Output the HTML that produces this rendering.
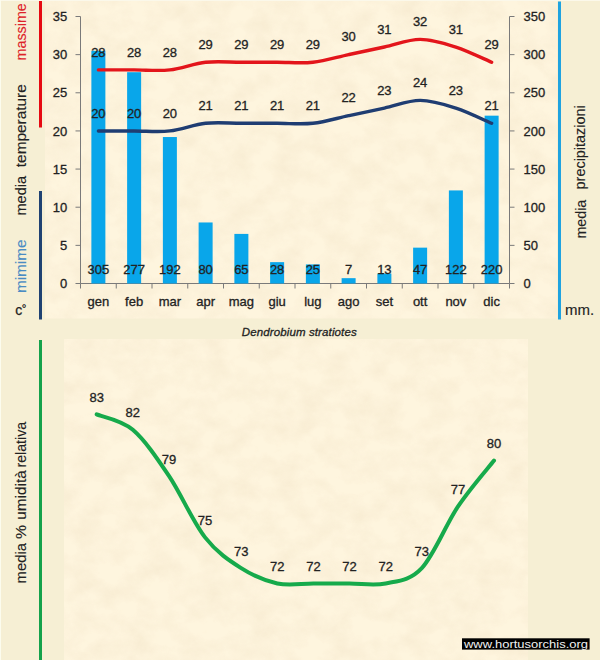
<!DOCTYPE html>
<html><head><meta charset="utf-8"><style>
html,body{margin:0;padding:0;width:600px;height:660px;overflow:hidden;background:#f6efd4}
svg text{font-family:"Liberation Sans", sans-serif}
</style></head><body>
<svg width="600" height="660" viewBox="0 0 600 660" style="position:absolute;left:0;top:0">
<rect x="0" y="0" width="600" height="660" fill="#f6efd4"/>
<defs><filter id="tx" x="0" y="0" width="100%" height="100%" color-interpolation-filters="sRGB"><feTurbulence type="fractalNoise" baseFrequency="0.04 0.05" numOctaves="4" seed="7" result="n"/><feColorMatrix in="n" type="matrix" values="0 0 0 0 0.95  0 0 0 0 0.89  0 0 0 0 0.78  0.85 0 0 0 -0.3"/><feComposite in2="SourceGraphic" operator="in"/></filter></defs>
<rect x="45" y="0" width="512" height="318.5" fill="#fef5de"/>
<rect x="64" y="339" width="464" height="321" fill="#fef5de"/>
<rect x="45" y="0" width="512" height="318.5" fill="#000" filter="url(#tx)"/>
<rect x="64" y="339" width="464" height="321" fill="#000" filter="url(#tx)"/>
<rect x="0" y="0" width="600" height="1" fill="#fbf8ea"/>
<rect x="0" y="0" width="1" height="660" fill="#fcfcee"/>
<rect x="39" y="1" width="3" height="126.5" fill="#e60a12"/>
<rect x="39" y="191" width="3" height="128.5" fill="#1f4272"/>
<rect x="558" y="1.5" width="3" height="318" fill="#1fa3e0"/>
<rect x="39" y="340" width="3" height="320" fill="#14a24b"/>
<line x1="80.5" y1="16.5" x2="80.5" y2="283.5" stroke="#7a7a7a" stroke-width="1"/>
<line x1="509.5" y1="16.5" x2="509.5" y2="283.5" stroke="#7a7a7a" stroke-width="1"/>
<line x1="80.5" y1="283.5" x2="509.5" y2="283.5" stroke="#7a7a7a" stroke-width="1"/>
<line x1="75.5" y1="283.50" x2="80.5" y2="283.50" stroke="#7a7a7a" stroke-width="1"/>
<line x1="509.5" y1="283.50" x2="514.5" y2="283.50" stroke="#7a7a7a" stroke-width="1"/>
<text x="67.2" y="288.20" text-anchor="end" font-size="13" fill="#222222" stroke="#222" stroke-width="0.3">0</text>
<text x="523.5" y="288.20" text-anchor="start" font-size="13" fill="#222222" stroke="#222" stroke-width="0.3">0</text>
<line x1="75.5" y1="245.36" x2="80.5" y2="245.36" stroke="#7a7a7a" stroke-width="1"/>
<line x1="509.5" y1="245.36" x2="514.5" y2="245.36" stroke="#7a7a7a" stroke-width="1"/>
<text x="67.2" y="250.06" text-anchor="end" font-size="13" fill="#222222" stroke="#222" stroke-width="0.3">5</text>
<text x="523.5" y="250.06" text-anchor="start" font-size="13" fill="#222222" stroke="#222" stroke-width="0.3">50</text>
<line x1="75.5" y1="207.21" x2="80.5" y2="207.21" stroke="#7a7a7a" stroke-width="1"/>
<line x1="509.5" y1="207.21" x2="514.5" y2="207.21" stroke="#7a7a7a" stroke-width="1"/>
<text x="67.2" y="211.91" text-anchor="end" font-size="13" fill="#222222" stroke="#222" stroke-width="0.3">10</text>
<text x="523.5" y="211.91" text-anchor="start" font-size="13" fill="#222222" stroke="#222" stroke-width="0.3">100</text>
<line x1="75.5" y1="169.07" x2="80.5" y2="169.07" stroke="#7a7a7a" stroke-width="1"/>
<line x1="509.5" y1="169.07" x2="514.5" y2="169.07" stroke="#7a7a7a" stroke-width="1"/>
<text x="67.2" y="173.77" text-anchor="end" font-size="13" fill="#222222" stroke="#222" stroke-width="0.3">15</text>
<text x="523.5" y="173.77" text-anchor="start" font-size="13" fill="#222222" stroke="#222" stroke-width="0.3">150</text>
<line x1="75.5" y1="130.93" x2="80.5" y2="130.93" stroke="#7a7a7a" stroke-width="1"/>
<line x1="509.5" y1="130.93" x2="514.5" y2="130.93" stroke="#7a7a7a" stroke-width="1"/>
<text x="67.2" y="135.63" text-anchor="end" font-size="13" fill="#222222" stroke="#222" stroke-width="0.3">20</text>
<text x="523.5" y="135.63" text-anchor="start" font-size="13" fill="#222222" stroke="#222" stroke-width="0.3">200</text>
<line x1="75.5" y1="92.79" x2="80.5" y2="92.79" stroke="#7a7a7a" stroke-width="1"/>
<line x1="509.5" y1="92.79" x2="514.5" y2="92.79" stroke="#7a7a7a" stroke-width="1"/>
<text x="67.2" y="97.49" text-anchor="end" font-size="13" fill="#222222" stroke="#222" stroke-width="0.3">25</text>
<text x="523.5" y="97.49" text-anchor="start" font-size="13" fill="#222222" stroke="#222" stroke-width="0.3">250</text>
<line x1="75.5" y1="54.64" x2="80.5" y2="54.64" stroke="#7a7a7a" stroke-width="1"/>
<line x1="509.5" y1="54.64" x2="514.5" y2="54.64" stroke="#7a7a7a" stroke-width="1"/>
<text x="67.2" y="59.34" text-anchor="end" font-size="13" fill="#222222" stroke="#222" stroke-width="0.3">30</text>
<text x="523.5" y="59.34" text-anchor="start" font-size="13" fill="#222222" stroke="#222" stroke-width="0.3">300</text>
<line x1="75.5" y1="16.50" x2="80.5" y2="16.50" stroke="#7a7a7a" stroke-width="1"/>
<line x1="509.5" y1="16.50" x2="514.5" y2="16.50" stroke="#7a7a7a" stroke-width="1"/>
<text x="67.2" y="21.20" text-anchor="end" font-size="13" fill="#222222" stroke="#222" stroke-width="0.3">35</text>
<text x="523.5" y="21.20" text-anchor="start" font-size="13" fill="#222222" stroke="#222" stroke-width="0.3">350</text>
<line x1="80.50" y1="283.5" x2="80.50" y2="288.5" stroke="#7a7a7a" stroke-width="1"/>
<line x1="116.25" y1="283.5" x2="116.25" y2="288.5" stroke="#7a7a7a" stroke-width="1"/>
<line x1="152.00" y1="283.5" x2="152.00" y2="288.5" stroke="#7a7a7a" stroke-width="1"/>
<line x1="187.75" y1="283.5" x2="187.75" y2="288.5" stroke="#7a7a7a" stroke-width="1"/>
<line x1="223.50" y1="283.5" x2="223.50" y2="288.5" stroke="#7a7a7a" stroke-width="1"/>
<line x1="259.25" y1="283.5" x2="259.25" y2="288.5" stroke="#7a7a7a" stroke-width="1"/>
<line x1="295.00" y1="283.5" x2="295.00" y2="288.5" stroke="#7a7a7a" stroke-width="1"/>
<line x1="330.75" y1="283.5" x2="330.75" y2="288.5" stroke="#7a7a7a" stroke-width="1"/>
<line x1="366.50" y1="283.5" x2="366.50" y2="288.5" stroke="#7a7a7a" stroke-width="1"/>
<line x1="402.25" y1="283.5" x2="402.25" y2="288.5" stroke="#7a7a7a" stroke-width="1"/>
<line x1="438.00" y1="283.5" x2="438.00" y2="288.5" stroke="#7a7a7a" stroke-width="1"/>
<line x1="473.75" y1="283.5" x2="473.75" y2="288.5" stroke="#7a7a7a" stroke-width="1"/>
<line x1="509.50" y1="283.5" x2="509.50" y2="288.5" stroke="#7a7a7a" stroke-width="1"/>
<rect x="91.38" y="50.83" width="14" height="232.67" fill="#09a6ea"/>
<rect x="127.12" y="72.19" width="14" height="211.31" fill="#09a6ea"/>
<rect x="162.88" y="137.03" width="14" height="146.47" fill="#09a6ea"/>
<rect x="198.62" y="222.47" width="14" height="61.03" fill="#09a6ea"/>
<rect x="234.38" y="233.91" width="14" height="49.59" fill="#09a6ea"/>
<rect x="270.12" y="262.14" width="14" height="21.36" fill="#09a6ea"/>
<rect x="305.88" y="264.43" width="14" height="19.07" fill="#09a6ea"/>
<rect x="341.62" y="278.16" width="14" height="5.34" fill="#09a6ea"/>
<rect x="377.38" y="273.58" width="14" height="9.92" fill="#09a6ea"/>
<rect x="413.12" y="247.65" width="14" height="35.85" fill="#09a6ea"/>
<rect x="448.88" y="190.43" width="14" height="93.07" fill="#09a6ea"/>
<rect x="484.62" y="115.67" width="14" height="167.83" fill="#09a6ea"/>
<path d="M98.38,69.90 C104.33,69.90 122.21,69.90 134.12,69.90 C146.04,69.90 157.96,71.17 169.88,69.90 C181.79,68.63 193.71,63.54 205.62,62.27 C217.54,61.00 229.46,62.27 241.38,62.27 C253.29,62.27 265.21,62.27 277.12,62.27 C289.04,62.27 300.96,63.54 312.88,62.27 C324.79,61.00 336.71,57.19 348.62,54.64 C360.54,52.10 372.46,49.56 384.38,47.01 C396.29,44.47 408.21,39.39 420.12,39.39 C432.04,39.39 443.96,43.20 455.88,47.01 C467.79,50.83 485.67,59.73 491.62,62.27" fill="none" stroke="#e3151b" stroke-width="3.4" stroke-linecap="round"/>
<path d="M98.38,130.93 C104.33,130.93 122.21,130.93 134.12,130.93 C146.04,130.93 157.96,132.20 169.88,130.93 C181.79,129.66 193.71,124.57 205.62,123.30 C217.54,122.03 229.46,123.30 241.38,123.30 C253.29,123.30 265.21,123.30 277.12,123.30 C289.04,123.30 300.96,124.57 312.88,123.30 C324.79,122.03 336.71,118.21 348.62,115.67 C360.54,113.13 372.46,110.59 384.38,108.04 C396.29,105.50 408.21,100.41 420.12,100.41 C432.04,100.41 443.96,104.23 455.88,108.04 C467.79,111.86 485.67,120.76 491.62,123.30" fill="none" stroke="#1f3d72" stroke-width="3.4" stroke-linecap="round"/>
<text x="98.38" y="56.60" text-anchor="middle" font-size="13" fill="#222222" stroke="#222" stroke-width="0.3">28</text>
<text x="98.38" y="117.63" text-anchor="middle" font-size="13" fill="#222222" stroke="#222" stroke-width="0.3">20</text>
<text x="98.38" y="274.00" text-anchor="middle" font-size="13" fill="#222222" stroke="#222" stroke-width="0.3">305</text>
<text x="98.38" y="306.40" text-anchor="middle" font-size="13" fill="#222222" stroke="#222" stroke-width="0.3">gen</text>
<text x="134.12" y="56.60" text-anchor="middle" font-size="13" fill="#222222" stroke="#222" stroke-width="0.3">28</text>
<text x="134.12" y="117.63" text-anchor="middle" font-size="13" fill="#222222" stroke="#222" stroke-width="0.3">20</text>
<text x="134.12" y="274.00" text-anchor="middle" font-size="13" fill="#222222" stroke="#222" stroke-width="0.3">277</text>
<text x="134.12" y="306.40" text-anchor="middle" font-size="13" fill="#222222" stroke="#222" stroke-width="0.3">feb</text>
<text x="169.88" y="56.60" text-anchor="middle" font-size="13" fill="#222222" stroke="#222" stroke-width="0.3">28</text>
<text x="169.88" y="117.63" text-anchor="middle" font-size="13" fill="#222222" stroke="#222" stroke-width="0.3">20</text>
<text x="169.88" y="274.00" text-anchor="middle" font-size="13" fill="#222222" stroke="#222" stroke-width="0.3">192</text>
<text x="169.88" y="306.40" text-anchor="middle" font-size="13" fill="#222222" stroke="#222" stroke-width="0.3">mar</text>
<text x="205.62" y="48.97" text-anchor="middle" font-size="13" fill="#222222" stroke="#222" stroke-width="0.3">29</text>
<text x="205.62" y="110.00" text-anchor="middle" font-size="13" fill="#222222" stroke="#222" stroke-width="0.3">21</text>
<text x="205.62" y="274.00" text-anchor="middle" font-size="13" fill="#222222" stroke="#222" stroke-width="0.3">80</text>
<text x="205.62" y="306.40" text-anchor="middle" font-size="13" fill="#222222" stroke="#222" stroke-width="0.3">apr</text>
<text x="241.38" y="48.97" text-anchor="middle" font-size="13" fill="#222222" stroke="#222" stroke-width="0.3">29</text>
<text x="241.38" y="110.00" text-anchor="middle" font-size="13" fill="#222222" stroke="#222" stroke-width="0.3">21</text>
<text x="241.38" y="274.00" text-anchor="middle" font-size="13" fill="#222222" stroke="#222" stroke-width="0.3">65</text>
<text x="241.38" y="306.40" text-anchor="middle" font-size="13" fill="#222222" stroke="#222" stroke-width="0.3">mag</text>
<text x="277.12" y="48.97" text-anchor="middle" font-size="13" fill="#222222" stroke="#222" stroke-width="0.3">29</text>
<text x="277.12" y="110.00" text-anchor="middle" font-size="13" fill="#222222" stroke="#222" stroke-width="0.3">21</text>
<text x="277.12" y="274.00" text-anchor="middle" font-size="13" fill="#222222" stroke="#222" stroke-width="0.3">28</text>
<text x="277.12" y="306.40" text-anchor="middle" font-size="13" fill="#222222" stroke="#222" stroke-width="0.3">giu</text>
<text x="312.88" y="48.97" text-anchor="middle" font-size="13" fill="#222222" stroke="#222" stroke-width="0.3">29</text>
<text x="312.88" y="110.00" text-anchor="middle" font-size="13" fill="#222222" stroke="#222" stroke-width="0.3">21</text>
<text x="312.88" y="274.00" text-anchor="middle" font-size="13" fill="#222222" stroke="#222" stroke-width="0.3">25</text>
<text x="312.88" y="306.40" text-anchor="middle" font-size="13" fill="#222222" stroke="#222" stroke-width="0.3">lug</text>
<text x="348.62" y="41.34" text-anchor="middle" font-size="13" fill="#222222" stroke="#222" stroke-width="0.3">30</text>
<text x="348.62" y="102.37" text-anchor="middle" font-size="13" fill="#222222" stroke="#222" stroke-width="0.3">22</text>
<text x="348.62" y="274.00" text-anchor="middle" font-size="13" fill="#222222" stroke="#222" stroke-width="0.3">7</text>
<text x="348.62" y="306.40" text-anchor="middle" font-size="13" fill="#222222" stroke="#222" stroke-width="0.3">ago</text>
<text x="384.38" y="33.71" text-anchor="middle" font-size="13" fill="#222222" stroke="#222" stroke-width="0.3">31</text>
<text x="384.38" y="94.74" text-anchor="middle" font-size="13" fill="#222222" stroke="#222" stroke-width="0.3">23</text>
<text x="384.38" y="274.00" text-anchor="middle" font-size="13" fill="#222222" stroke="#222" stroke-width="0.3">13</text>
<text x="384.38" y="306.40" text-anchor="middle" font-size="13" fill="#222222" stroke="#222" stroke-width="0.3">set</text>
<text x="420.12" y="26.09" text-anchor="middle" font-size="13" fill="#222222" stroke="#222" stroke-width="0.3">32</text>
<text x="420.12" y="87.11" text-anchor="middle" font-size="13" fill="#222222" stroke="#222" stroke-width="0.3">24</text>
<text x="420.12" y="274.00" text-anchor="middle" font-size="13" fill="#222222" stroke="#222" stroke-width="0.3">47</text>
<text x="420.12" y="306.40" text-anchor="middle" font-size="13" fill="#222222" stroke="#222" stroke-width="0.3">ott</text>
<text x="455.88" y="33.71" text-anchor="middle" font-size="13" fill="#222222" stroke="#222" stroke-width="0.3">31</text>
<text x="455.88" y="94.74" text-anchor="middle" font-size="13" fill="#222222" stroke="#222" stroke-width="0.3">23</text>
<text x="455.88" y="274.00" text-anchor="middle" font-size="13" fill="#222222" stroke="#222" stroke-width="0.3">122</text>
<text x="455.88" y="306.40" text-anchor="middle" font-size="13" fill="#222222" stroke="#222" stroke-width="0.3">nov</text>
<text x="491.62" y="48.97" text-anchor="middle" font-size="13" fill="#222222" stroke="#222" stroke-width="0.3">29</text>
<text x="491.62" y="110.00" text-anchor="middle" font-size="13" fill="#222222" stroke="#222" stroke-width="0.3">21</text>
<text x="491.62" y="274.00" text-anchor="middle" font-size="13" fill="#222222" stroke="#222" stroke-width="0.3">220</text>
<text x="491.62" y="306.40" text-anchor="middle" font-size="13" fill="#222222" stroke="#222" stroke-width="0.3">dic</text>
<text transform="translate(26.30,31.80) rotate(-90)" text-anchor="middle" font-size="15" fill="#dd2228" stroke="#dd2228" stroke-width="0.12" textLength="57.2" lengthAdjust="spacingAndGlyphs">massime</text>
<text transform="translate(26.10,125.75) rotate(-90)" text-anchor="middle" font-size="15" fill="#222222" stroke="#222222" stroke-width="0.12" textLength="82.9" lengthAdjust="spacingAndGlyphs">temperature</text>
<text transform="translate(26.20,195.70) rotate(-90)" text-anchor="middle" font-size="15" fill="#222222" stroke="#222222" stroke-width="0.12" textLength="39.6" lengthAdjust="spacingAndGlyphs">media</text>
<text transform="translate(26.40,266.35) rotate(-90)" text-anchor="middle" font-size="15" fill="#4a8cc3" stroke="#4a8cc3" stroke-width="0.12" textLength="53.5" lengthAdjust="spacingAndGlyphs">mimime</text>
<text x="15.2" y="314.8" font-size="14" fill="#222222" stroke="#222222" stroke-width="0.25">c</text>
<text x="21.7" y="312.4" font-size="11.5" fill="#222222" stroke="#222222" stroke-width="0.25">°</text>
<text transform="translate(585.40,147.35) rotate(-90)" text-anchor="middle" font-size="15" fill="#222222" stroke="#222222" stroke-width="0.12" textLength="84.1" lengthAdjust="spacingAndGlyphs">precipitazioni</text>
<text transform="translate(585.60,219.15) rotate(-90)" text-anchor="middle" font-size="15" fill="#222222" stroke="#222222" stroke-width="0.12" textLength="38.9" lengthAdjust="spacingAndGlyphs">media</text>
<text x="565" y="314.5" font-size="15" fill="#222222" stroke="#222222" stroke-width="0.12">mm.</text>
<text x="299.2" y="335.7" text-anchor="middle" font-size="11.5" font-style="italic" fill="#222222" stroke="#222222" stroke-width="0.3" textLength="115" lengthAdjust="spacing">Dendrobium stratiotes</text>
<path d="M96.70,414.40 C102.72,416.96 120.78,419.52 132.82,429.77 C144.86,440.02 156.90,457.95 168.94,475.88 C180.98,493.81 193.02,521.99 205.06,537.36 C217.10,552.73 229.14,560.41 241.18,568.10 C253.22,575.78 265.26,580.91 277.30,583.47 C289.34,586.03 301.38,583.47 313.42,583.47 C325.46,583.47 337.50,583.47 349.54,583.47 C361.58,583.47 373.62,586.03 385.66,583.47 C397.70,580.91 409.74,580.91 421.78,568.10 C433.82,555.29 445.86,524.55 457.90,506.62 C469.94,488.69 488.00,468.19 494.02,460.51" fill="none" stroke="#16aa4b" stroke-width="4" stroke-linecap="round"/>
<text x="96.70" y="402.10" text-anchor="middle" font-size="13" fill="#222222" stroke="#222" stroke-width="0.3">83</text>
<text x="132.82" y="417.47" text-anchor="middle" font-size="13" fill="#222222" stroke="#222" stroke-width="0.3">82</text>
<text x="168.94" y="463.58" text-anchor="middle" font-size="13" fill="#222222" stroke="#222" stroke-width="0.3">79</text>
<text x="205.06" y="525.06" text-anchor="middle" font-size="13" fill="#222222" stroke="#222" stroke-width="0.3">75</text>
<text x="241.18" y="555.80" text-anchor="middle" font-size="13" fill="#222222" stroke="#222" stroke-width="0.3">73</text>
<text x="277.30" y="571.17" text-anchor="middle" font-size="13" fill="#222222" stroke="#222" stroke-width="0.3">72</text>
<text x="313.42" y="571.17" text-anchor="middle" font-size="13" fill="#222222" stroke="#222" stroke-width="0.3">72</text>
<text x="349.54" y="571.17" text-anchor="middle" font-size="13" fill="#222222" stroke="#222" stroke-width="0.3">72</text>
<text x="385.66" y="571.17" text-anchor="middle" font-size="13" fill="#222222" stroke="#222" stroke-width="0.3">72</text>
<text x="421.78" y="555.80" text-anchor="middle" font-size="13" fill="#222222" stroke="#222" stroke-width="0.3">73</text>
<text x="457.90" y="494.32" text-anchor="middle" font-size="13" fill="#222222" stroke="#222" stroke-width="0.3">77</text>
<text x="494.02" y="448.21" text-anchor="middle" font-size="13" fill="#222222" stroke="#222" stroke-width="0.3">80</text>
<text transform="translate(26.00,444.70) rotate(-90)" text-anchor="middle" font-size="15" fill="#222222" stroke="#222222" stroke-width="0.12" textLength="45.8" lengthAdjust="spacingAndGlyphs">relativa</text>
<text transform="translate(26.00,495.00) rotate(-90)" text-anchor="middle" font-size="15" fill="#222222" stroke="#222222" stroke-width="0.12" textLength="49.4" lengthAdjust="spacingAndGlyphs">umidità</text>
<text transform="translate(26.00,532.00) rotate(-90)" text-anchor="middle" font-size="15" fill="#222222" stroke="#222222" stroke-width="0.12" textLength="14.0" lengthAdjust="spacingAndGlyphs">%</text>
<text transform="translate(26.10,563.20) rotate(-90)" text-anchor="middle" font-size="15" fill="#222222" stroke="#222222" stroke-width="0.12" textLength="40.4" lengthAdjust="spacingAndGlyphs">media</text>
<rect x="462" y="638.3" width="127.6" height="11.3" fill="#000"/>
<text x="526" y="647.8" text-anchor="middle" font-size="10.5" fill="#f2f2f2" textLength="124" lengthAdjust="spacingAndGlyphs">www.hortusorchis.org</text>
</svg>
</body></html>
